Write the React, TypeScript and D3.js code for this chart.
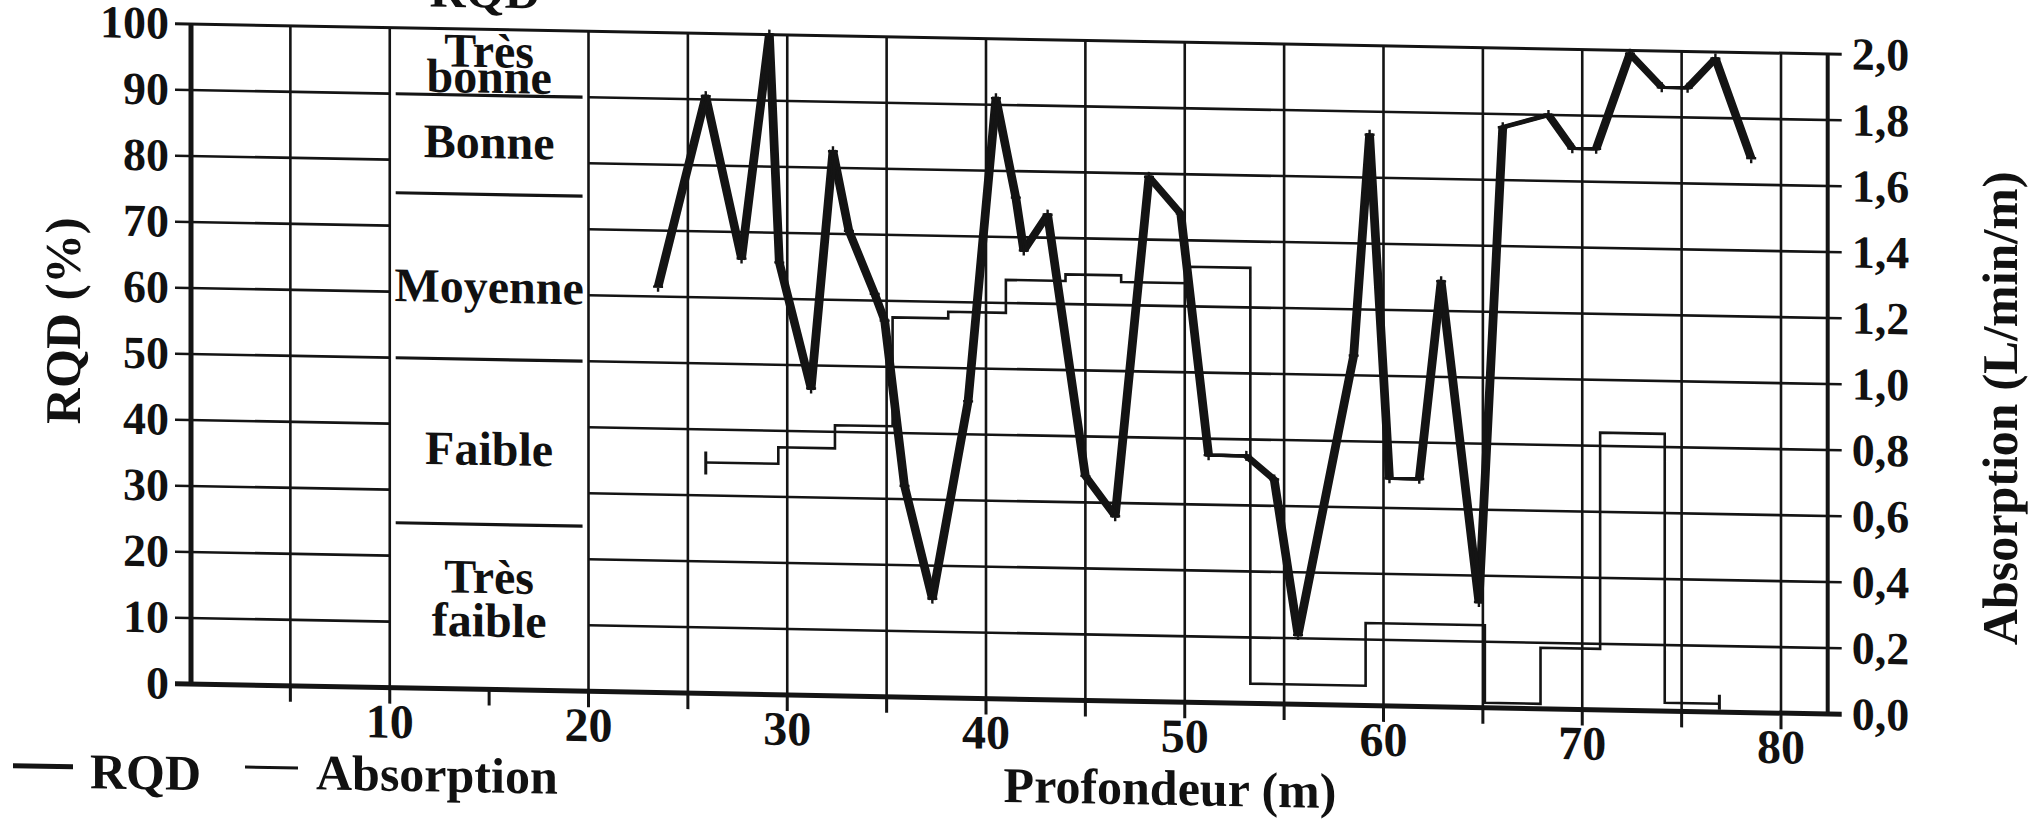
import React, { useEffect, useRef } from 'react';
import * as d3 from 'd3';

// RQD (%) read along depth (m)
const rqdDepth = [23.5, 25.9, 27.7, 29.1, 29.6, 31.2, 32.3, 33.1, 34.4, 34.9, 35.9, 37.3, 39.1, 40.5, 41.5, 41.9, 43.1, 45.0, 46.5, 48.2, 49.8, 51.2, 53.1, 54.5, 55.7, 58.5, 59.3, 60.3, 61.8, 62.9, 64.8, 66.0, 68.3, 69.5, 70.7, 72.4, 74.0, 75.3, 76.7, 78.5];
const rqdValue = [61.5, 90.5, 66, 100, 65.5, 46.5, 82.5, 70.5, 61, 57, 32, 15, 45, 91, 76, 68, 73.5, 34, 28, 79.5, 74, 37.5, 37.5, 34, 10.5, 53, 86.5, 34.5, 34.5, 64.5, 16, 88, 90, 85, 85, 99.5, 94.5, 94.5, 99, 84];

// Absorption (L/min/m), one value per depth interval
const absDepth = [25.9, 29.55, 32.4, 35.3, 38.1, 41.0, 44.0, 46.8, 50.2, 53.3, 59.1, 65.1, 67.9, 70.9, 74.15, 76.9];
const absValue = [0.70, 0.75, 0.82, 1.15, 1.17, 1.27, 1.29, 1.27, 1.32, 0.06, 0.25, 0.015, 0.185, 0.84, 0.025];

const rqdTicks = [0, 10, 20, 30, 40, 50, 60, 70, 80, 90, 100];
const absTicks = [0, 0.2, 0.4, 0.6, 0.8, 1.0, 1.2, 1.4, 1.6, 1.8, 2.0];
const depthTicks = [5, 10, 15, 20, 25, 30, 35, 40, 45, 50, 55, 60, 65, 70, 75, 80];
const depthLabels = [10, 20, 30, 40, 50, 60, 70, 80];

// RQD classes in the 10-20 m column
const classBounds = [90, 75, 50, 25];
const classLines = [['Très', 'bonne'], ['Bonne'], ['Moyenne'], ['Faible'], ['Très', 'faible']];
const classBaseline = [[94.3, 90.4], [80.5], [58.6], [34.0], [14.6, 8.0]];

const FONT = "'Liberation Serif', 'DejaVu Serif', serif";

const App = () => {
  const ref = useRef(null);

  useEffect(() => {
    const width = 2035;
    const height = 822;
    const xMax = 82.35;
    const skew = 0.01835; // the scanned page is slightly tilted

    d3.select(ref.current).selectAll('*').remove();

    const x = d3.scaleLinear().domain([0, 80]).range([191, 1781]);
    const y = d3.scaleLinear().domain([0, 100]).range([684, 24]);
    const yAbs = d3.scaleLinear().domain([0, 2]).range([684, 24]);

    const svg = d3.select(ref.current)
      .append('svg')
      .attr('width', width)
      .attr('height', height)
      .attr('viewBox', [0, 0, width, height])
      .style('position', 'absolute')
      .style('left', 0)
      .style('top', 0)
      .style('background', '#fff');

    const g = svg.append('g')
      .attr('transform', `matrix(1, ${skew}, 0, 1, 0, ${-skew * x(0)})`)
      .attr('font-family', FONT)
      .attr('font-weight', 'bold')
      .attr('fill', '#111');

    const ink = '#141414';
    const x0 = x(0);
    const xR = x(xMax);

    // vertical grid
    depthTicks.filter(d => d !== 15).forEach(d => {
      g.append('line')
        .attr('x1', x(d)).attr('x2', x(d))
        .attr('y1', y(100)).attr('y2', y(0))
        .attr('stroke', ink).attr('stroke-width', 2.6);
    });

    // horizontal grid, interrupted by the class column
    rqdTicks.filter(d => d > 0 && d < 100).forEach(d => {
      g.append('line')
        .attr('x1', x0 - 16).attr('x2', x(10))
        .attr('y1', y(d)).attr('y2', y(d))
        .attr('stroke', ink).attr('stroke-width', 2.6);
      g.append('line')
        .attr('x1', x(20)).attr('x2', xR + 14)
        .attr('y1', y(d)).attr('y2', y(d))
        .attr('stroke', ink).attr('stroke-width', 2.6);
    });

    // frame
    g.append('line').attr('x1', x0 - 16).attr('x2', xR + 14)
      .attr('y1', y(100)).attr('y2', y(100))
      .attr('stroke', ink).attr('stroke-width', 3);
    g.append('line').attr('x1', x0 - 16).attr('x2', xR + 14)
      .attr('y1', y(0)).attr('y2', y(0))
      .attr('stroke', ink).attr('stroke-width', 5);
    g.append('line').attr('x1', x0).attr('x2', x0)
      .attr('y1', y(100) - 1).attr('y2', y(0) + 2)
      .attr('stroke', ink).attr('stroke-width', 5);
    g.append('line').attr('x1', xR).attr('x2', xR)
      .attr('y1', y(100) - 1).attr('y2', y(0) + 2)
      .attr('stroke', ink).attr('stroke-width', 4);

    // depth ticks
    depthTicks.forEach(d => {
      g.append('line')
        .attr('x1', x(d)).attr('x2', x(d))
        .attr('y1', y(0)).attr('y2', y(0) + 16)
        .attr('stroke', ink).attr('stroke-width', 3);
    });

    // tick labels
    rqdTicks.forEach(d => {
      g.append('text')
        .attr('x', x0 - 22).attr('y', y(d) + 15)
        .attr('text-anchor', 'end')
        .attr('font-size', 46)
        .text(d);
    });
    absTicks.forEach(d => {
      g.append('text')
        .attr('x', xR + 24).attr('y', yAbs(d) + 15)
        .attr('text-anchor', 'start')
        .attr('font-size', 46)
        .text(d3.format('.1f')(d).replace('.', ','));
    });
    depthLabels.forEach(d => {
      g.append('text')
        .attr('x', x(d)).attr('y', 734)
        .attr('text-anchor', 'middle')
        .attr('font-size', 48)
        .text(d);
    });

    // RQD classes
    classBounds.forEach(b => {
      g.append('line')
        .attr('x1', x(10.3)).attr('x2', x(19.7))
        .attr('y1', y(b)).attr('y2', y(b))
        .attr('stroke', ink).attr('stroke-width', 3.2);
    });
    classLines.forEach((lines, i) => {
      lines.forEach((t, j) => {
        g.append('text')
          .attr('x', x(15)).attr('y', y(classBaseline[i][j]))
          .attr('text-anchor', 'middle')
          .attr('font-size', 48)
          .text(t);
      });
    });

    // absorption step line
    const absPts = absValue.map((v, i) => [absDepth[i], v]);
    absPts.push([absDepth[absDepth.length - 1], absValue[absValue.length - 1]]);
    g.append('path')
      .datum(absPts)
      .attr('fill', 'none')
      .attr('stroke', ink)
      .attr('stroke-width', 2.6)
      .attr('d', d3.line().curve(d3.curveStepAfter)
        .x(d => x(d[0]))
        .y(d => yAbs(d[1])));
    const first = absPts[0];
    const last = absPts[absPts.length - 1];
    g.append('line')
      .attr('x1', x(first[0])).attr('x2', x(first[0]))
      .attr('y1', yAbs(first[1]) - 11).attr('y2', yAbs(first[1]) + 12)
      .attr('stroke', ink).attr('stroke-width', 3);
    g.append('line')
      .attr('x1', x(last[0])).attr('x2', x(last[0]))
      .attr('y1', yAbs(last[1]) - 9).attr('y2', yAbs(last[1]) + 6)
      .attr('stroke', ink).attr('stroke-width', 3);

    // RQD line, drawn with a wide flat pen like the original plot
    const rqd = rqdDepth.map((d, i) => [d, rqdValue[i]]);
    const rqdLine = d3.line().x(d => x(d[0])).y(d => y(d[1]));
    [-2.8, -1, 1, 2.8].forEach(dx => {
      g.append('path')
        .datum(rqd)
        .attr('transform', `translate(${dx},0)`)
        .attr('fill', 'none')
        .attr('stroke', ink)
        .attr('stroke-width', 3.2)
        .attr('stroke-linejoin', 'round')
        .attr('d', rqdLine);
    });
    g.append('g').selectAll('path')
      .data(rqd)
      .join('path')
      .attr('fill', 'none')
      .attr('stroke', ink)
      .attr('stroke-width', 2.4)
      .attr('d', d => {
        const px = x(d[0]);
        const py = y(d[1]);
        return `M${px - 5},${py}h10M${px},${py - 5}v10`;
      });

    // axis titles
    g.append('text')
      .attr('transform', `translate(80,323) rotate(-90)`)
      .attr('text-anchor', 'middle')
      .attr('font-size', 50)
      .text('RQD (%)');
    g.append('text')
      .attr('transform', `translate(2017,375) rotate(-90)`)
      .attr('text-anchor', 'middle')
      .attr('font-size', 50)
      .text('Absorption (L/min/m)');
    g.append('text')
      .attr('x', 1170).attr('y', 787)
      .attr('text-anchor', 'middle')
      .attr('font-size', 50)
      .text('Profondeur (m)');
    g.append('text')
      .attr('x', 485).attr('y', 2)
      .attr('text-anchor', 'middle')
      .attr('font-size', 50)
      .text('RQD');

    // legend
    g.append('line')
      .attr('x1', 13).attr('x2', 73).attr('y1', 769).attr('y2', 769)
      .attr('stroke', ink).attr('stroke-width', 5);
    g.append('text')
      .attr('x', 90).attr('y', 790)
      .attr('font-size', 50)
      .text('RQD');
    g.append('line')
      .attr('x1', 245).attr('x2', 298).attr('y1', 766).attr('y2', 766)
      .attr('stroke', ink).attr('stroke-width', 3);
    g.append('text')
      .attr('x', 316).attr('y', 787)
      .attr('font-size', 50)
      .text('Absorption');
  }, []);

  return <div ref={ref}></div>;
};

export default App;
